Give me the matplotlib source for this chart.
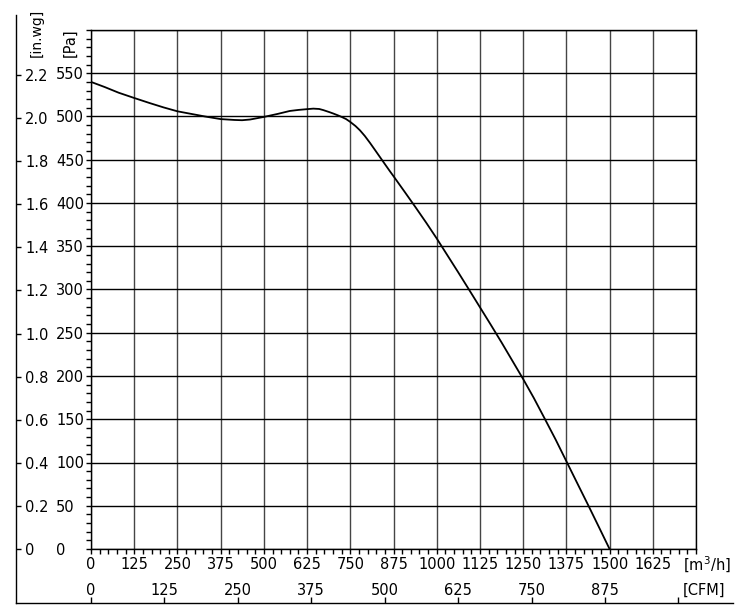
import matplotlib
matplotlib.use('Agg')
import matplotlib.pyplot as plt
from matplotlib.ticker import MultipleLocator

# curva: caudal [m3/h] vs presion [Pa]
flujo = [0, 40, 80, 125, 170, 210, 250, 290, 330, 375, 415, 437, 460, 500, 540,
         575, 600, 625, 643, 660, 672, 690, 701, 715, 725, 738, 749, 765, 778, 792,
         807, 822, 836, 850, 865, 875, 908, 938, 970, 1000, 1031, 1062, 1094, 1125,
         1156, 1188, 1219, 1250, 1281, 1312, 1344, 1375, 1406, 1438, 1469, 1500]
presion = [540, 534, 527.5, 521.4, 515.5, 510.5, 506, 503, 500, 497, 496, 495.7, 496.5, 499.5, 503,
           506.4, 507.6, 508.5, 509.1, 508.7, 507.4, 505, 503.4, 501.2, 499.5, 497, 494, 489, 484, 477.5,
           469.5, 461, 453, 445, 436.5, 431, 412.5, 395.5, 377, 359, 339.5, 320, 299.5, 279.5,
           259.5, 238.5, 217.5, 196.5, 174.5, 151, 126.5, 101.5, 76.5, 50.8, 25.5, 0]

ticks_m3h = list(range(0, 1751, 125))
ticks_pa = list(range(0, 601, 50))
ticks_cfm = list(range(0, 1001, 125))
ticks_inwg = [0, 0.2, 0.4, 0.6, 0.8, 1.0, 1.2, 1.4, 1.6, 1.8, 2.0, 2.2]
etiq_inwg = ['0', '0.2', '0.4', '0.6', '0.8', '1.0', '1.2', '1.4', '1.6', '1.8', '2.0', '2.2']

CFM = 1.69901   # m3/h por CFM
INWG = 249.089  # Pa por in.wg

W, H = 750, 615
plt.rcParams['font.family'] = ['DejaVu Sans']
plt.rcParams['font.size'] = 10.5

fig = plt.figure(figsize=(W / 100, H / 100), dpi=100)


def caja(x0, y0, x1, y1):
    return [x0 / W, 1 - y1 / H, (x1 - x0) / W, (y1 - y0) / H]


# ejes principales en pixeles
px0, py0, px1, py1 = 91, 30, 696, 549
# marco exterior (escala CFM / in.wg)
ex0, ey0, ex1, ey1 = 16, 15, 733, 603

ax_ext = fig.add_axes(caja(ex0, ey0, ex1, ey1))
ax = fig.add_axes(caja(px0, py0, px1, py1))

kx = (px1 - px0) / 1750
ky = (py1 - py0) / 600

# --- marco exterior
ax_ext.set_facecolor('none')
ax_ext.set_xlim(-(px0 - ex0) / kx, 1750 + (ex1 - px1) / kx)
ax_ext.set_ylim(-(ey1 - py1) / ky, 600 + (py0 - ey0) / ky)
for s in ['top', 'right']:
    ax_ext.spines[s].set_visible(False)
for s in ['left', 'bottom']:
    ax_ext.spines[s].set_linewidth(1.0)
ax_ext.set_xticks([c * CFM for c in ticks_cfm])
ax_ext.set_xticklabels([str(c) for c in ticks_cfm[:-1]] + [''])
ax_ext.set_yticks([v * INWG for v in ticks_inwg])
ax_ext.set_yticklabels(etiq_inwg)
ax_ext.tick_params(axis='x', direction='in', length=4, width=1, pad=-14.5)
ax_ext.tick_params(axis='y', direction='in', length=3.5, width=1, pad=-6.5)
for t in ax_ext.get_yticklabels():
    t.set_horizontalalignment('left')

# --- ejes principales
ax.set_xlim(0, 1750)
ax.set_ylim(0, 600)
ax.set_xticks(ticks_m3h)
ax.set_xticklabels([str(v) for v in ticks_m3h[:-1]] + [''])
ax.set_yticks(ticks_pa)
ax.set_yticklabels([str(v) for v in ticks_pa[:-1]] + [''])
ax.xaxis.set_minor_locator(MultipleLocator(25))
ax.yaxis.set_minor_locator(MultipleLocator(10))
ax.tick_params(axis='x', which='both', direction='out', length=3.6, width=1, pad=2.5)
ax.tick_params(axis='y', which='both', direction='out', length=3.6, width=1, pad=21.6)
for t in ax.get_yticklabels():
    t.set_horizontalalignment('left')
for s in ax.spines.values():
    s.set_linewidth(1.0)

ax.grid(axis='x', which='major', color='#454545', lw=1.0)
ax.grid(axis='y', which='major', color='black', lw=1.0)
ax.set_axisbelow(True)

ax.plot(flujo, presion, color='black', lw=1.3, zorder=3)

# etiquetas de unidades
fig.text(683 / W, 1 - 565 / H, '[m$^3$/h]', ha='left', va='center')
fig.text(683 / W, 1 - 590 / H, '[CFM]', ha='left', va='center')
fig.text(70 / W, 1 - 57 / H, '[Pa]', rotation=90, ha='center', va='bottom')
fig.text(37 / W, 1 - 57 / H, '[in.wg]', rotation=90, ha='center', va='bottom', fontsize=10)

fig.savefig('out.png', dpi=100)
